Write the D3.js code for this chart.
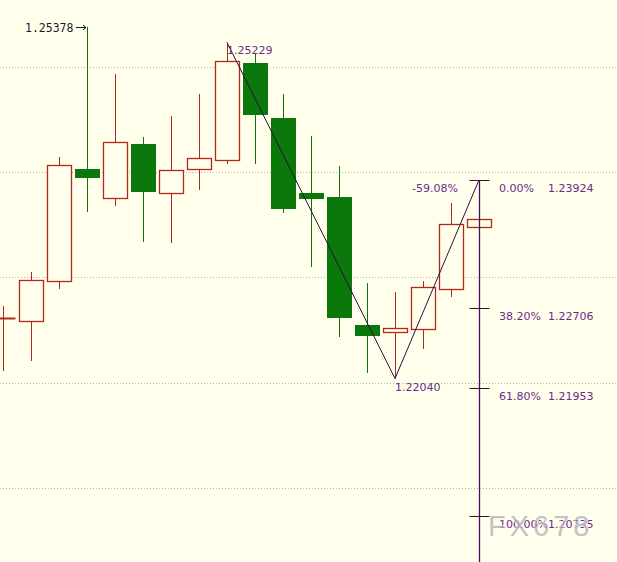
<!DOCTYPE html>
<html>
<head>
<meta charset="utf-8">
<script src="https://cdn.jsdelivr.net/npm/d3@7"></script>
<style>
  html, body { margin: 0; padding: 0; background: #FFFFEC; }
  svg { display: block; }
</style>
</head>
<body>
<svg id="chart" width="617" height="562"></svg>
<script>
// ---- data ----
const opens  = [1.22614, 1.22586, 1.22965, 1.24028, 1.23753, 1.24266, 1.23801, 1.24028, 1.24114, 1.25034, 1.24512, 1.23801, 1.23763, 1.22548, 1.22481, 1.22510, 1.22890, 1.23478];
const closes = [1.22614, 1.22975, 1.24066, 1.23952, 1.24285, 1.23820, 1.24019, 1.24133, 1.25053, 1.24550, 1.23658, 1.23753, 1.22624, 1.22453, 1.22519, 1.22908, 1.23506, 1.23554];
const highs  = [1.22728, 1.23051, 1.24142, 1.25378, 1.24930, 1.24332, 1.24531, 1.24740, 1.25229, 1.25129, 1.24740, 1.24342, 1.24057, 1.22946, 1.22861, 1.22965, 1.23706, 1.23554];
const lows   = [1.22111, 1.22206, 1.22890, 1.23620, 1.23677, 1.23336, 1.23326, 1.23829, 1.24076, 1.24076, 1.23611, 1.23098, 1.22434, 1.22092, 1.22040, 1.22320, 1.22814, 1.23478];
const gridPrices = [1.25, 1.24, 1.23, 1.22, 1.21];
const fibPercents = ["0.00%", "38.20%", "61.80%", "100.00%"];
const fibPrices   = [1.23924, 1.22706, 1.21953, 1.20735];
const fibLabels   = ["1.23924", "1.22706", "1.21953", "1.20735"];
const extLabel = "-59.08%";
const zigzag = [ {i: 8, p: 1.25229}, {i: 14, p: 1.22040}, {i: 17, p: 1.23924} ];
const highLabel = "1.25378";
const swingHighLabel = "1.25229";
const swingLowLabel = "1.22040";
const watermark = "FX678";

// ---- scales ----
const W = 617, H = 562;
const svg = d3.select("#chart");
const x = d3.scaleLinear().domain([0, 17]).range([3, 479]);
const y = d3.scaleLinear().domain([1.20735, 1.23924]).range([516, 180]);
const bodyW = 24;
const GREEN = "#0a780a", RED = "#b0281c", PURPLE = "#6e2a8c", LINE = "#2c1040", FIBLINE = "#4a1060";

svg.append("rect").attr("width", W).attr("height", H).attr("fill", "#FFFFEC");

// gridlines
svg.selectAll("line.grid").data(gridPrices).enter().append("line")
  .attr("x1", 0).attr("x2", W)
  .attr("y1", d => Math.round(y(d)) + 0.5).attr("y2", d => Math.round(y(d)) + 0.5)
  .attr("stroke", "#b4b4a4").attr("stroke-width", 1).attr("stroke-dasharray", "1,2");

const candles = opens.map((o, i) => ({i, o, c: closes[i], h: highs[i], l: lows[i]}));
const g = svg.append("g");
candles.forEach(d => {
  const up = d.c >= d.o;
  const col = up ? RED : GREEN;
  const cx = Math.round(x(d.i)) + 0.5;
  const top = Math.round(y(Math.max(d.o, d.c)));
  const bot = Math.round(y(Math.min(d.o, d.c)));
  // wick
  g.append("line").attr("x1", cx).attr("x2", cx)
    .attr("y1", y(d.h)).attr("y2", y(d.l))
    .attr("stroke", col).attr("stroke-width", 1);
  if (bot - top < 1.5) {
    g.append("line").attr("x1", cx - bodyW/2).attr("x2", cx + bodyW/2)
      .attr("y1", top + 0.5).attr("y2", top + 0.5)
      .attr("stroke", col).attr("stroke-width", 2);
  } else if (up) {
    g.append("rect").attr("x", cx - bodyW/2).attr("y", top + 0.5)
      .attr("width", bodyW).attr("height", bot - top)
      .attr("fill", "#FFFFEC").attr("stroke", col).attr("stroke-width", 1.3);
  } else {
    g.append("rect").attr("x", cx - bodyW/2 - 0.5).attr("y", top)
      .attr("width", bodyW + 1).attr("height", bot - top + 1)
      .attr("fill", col);
  }
});

// zigzag
svg.append("path")
  .attr("d", d3.line().x(d => x(d.i)).y(d => y(d.p))(zigzag))
  .attr("fill", "none").attr("stroke", LINE).attr("stroke-width", 1);

// fib vertical line
const fx = Math.round(x(17)) + 0.5;
svg.append("line").attr("x1", fx).attr("x2", fx)
  .attr("y1", y(fibPrices[0])).attr("y2", H)
  .attr("stroke", FIBLINE).attr("stroke-width", 1.3);
fibPrices.forEach((p, k) => {
  const yy = Math.round(y(p)) + 0.5;
  svg.append("line").attr("x1", fx - 10).attr("x2", fx + 10)
    .attr("y1", yy).attr("y2", yy).attr("stroke", LINE).attr("stroke-width", 1);
  svg.append("text").attr("x", 499).attr("y", yy + 11)
    .attr("font-family", "DejaVu Sans, Verdana, sans-serif").attr("font-size", 11)
    .attr("fill", PURPLE).text(fibPercents[k]);
  svg.append("text").attr("x", 548).attr("y", yy + 11)
    .attr("font-family", "DejaVu Sans, Verdana, sans-serif").attr("font-size", 11)
    .attr("fill", PURPLE).text(fibLabels[k]);
});
svg.append("text").attr("x", 458).attr("y", Math.round(y(fibPrices[0])) + 11.5)
  .attr("text-anchor", "end")
  .attr("font-family", "DejaVu Sans, Verdana, sans-serif").attr("font-size", 11)
  .attr("fill", PURPLE).text(extLabel);

// swing labels
svg.append("text").attr("x", x(8)).attr("y", y(1.25229) + 11)
  .attr("font-family", "DejaVu Sans, Verdana, sans-serif").attr("font-size", 11)
  .attr("fill", PURPLE).text(swingHighLabel);
svg.append("text").attr("x", x(14)).attr("y", y(1.22040) + 12)
  .attr("font-family", "DejaVu Sans, Verdana, sans-serif").attr("font-size", 11)
  .attr("fill", PURPLE).text(swingLowLabel);

// top high label with arrow
const hy = Math.round(y(highs[3])) + 0.5;
const hx = Math.round(x(3));
svg.append("text").attr("x", 25).attr("y", hy + 4)
  .attr("font-family", "DejaVu Sans Mono, monospace").attr("font-size", 11.5)
  .attr("fill", "#1a1a30").text(highLabel);
svg.append("line").attr("x1", hx - 11).attr("x2", hx - 1).attr("y1", hy).attr("y2", hy)
  .attr("stroke", "#1a1a30").attr("stroke-width", 1);
svg.append("path").attr("d", `M${hx - 4},${hy - 2.5} L${hx - 1},${hy} L${hx - 4},${hy + 2.5}`)
  .attr("fill", "none").attr("stroke", "#1a1a30").attr("stroke-width", 1);

// watermark
svg.append("text").attr("x", 488).attr("y", 536)
  .attr("font-family", "Liberation Sans, Arial, sans-serif").attr("font-size", 29)
  .attr("letter-spacing", 4)
  .attr("fill", "#8e8e96").attr("fill-opacity", 0.55)
  .attr("stroke", "#ffffff").attr("stroke-width", 1.5).attr("stroke-opacity", 0.7)
  .attr("paint-order", "stroke")
  .text(watermark);
</script>
</body>
</html>
